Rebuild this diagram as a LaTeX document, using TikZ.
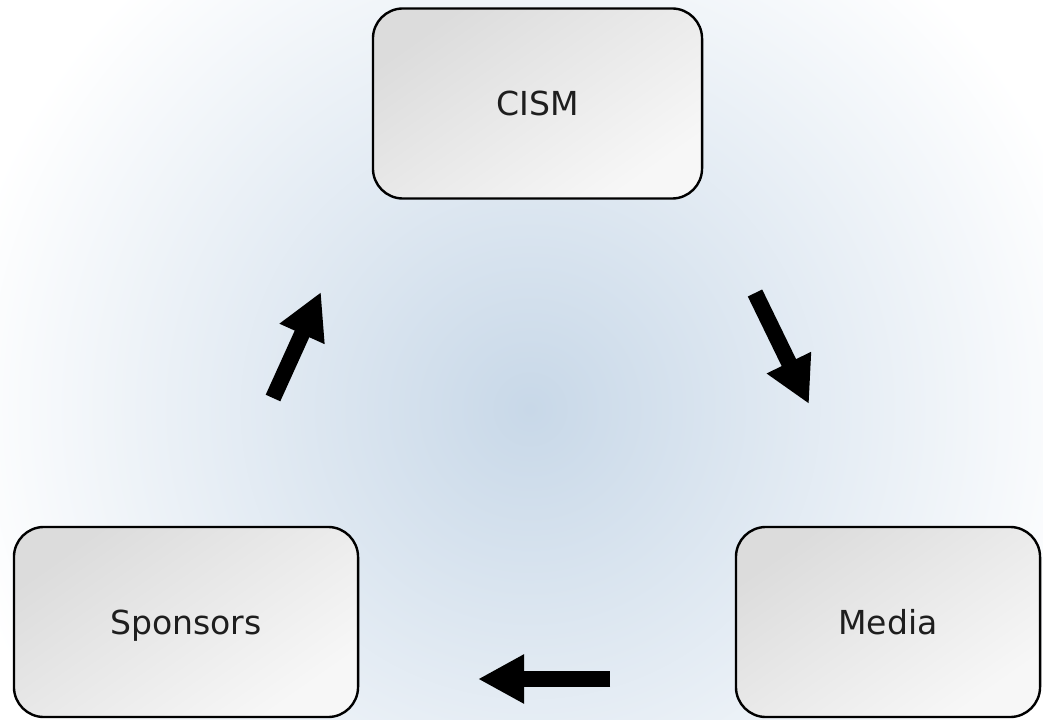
\documentclass[tikz,border=0pt]{standalone}
\usepackage{fontspec}
\setmainfont{DejaVu Sans}
\usetikzlibrary{arrows.meta, shadings}
\definecolor{glowblue}{RGB}{200,216,232}
\definecolor{boxgray}{RGB}{220,220,220}
\definecolor{textgray}{RGB}{30,30,30}
\tikzset{
  party/.style={draw=black, line width=0.06cm, rounded corners=0.75cm,
    top color=boxgray, bottom color=white!97!black, shading angle=35,
    minimum height=4.75cm, text=textgray, text height=17.1pt, text depth=0pt,
    font=\fontsize{23.5}{28}\selectfont},
  flow/.style={line width=0.4cm, -{Triangle[width=1.15cm, length=1.15cm]}}
}
\begin{document}
\begin{tikzpicture}[x=0.025cm, y=0.025cm]
\useasboundingbox (0,0) rectangle (1043,719);
%
\fill[white] (0,0) rectangle (1043,719);
\begin{scope}
  \clip (0,0) rectangle (1043,719);
  \shade[inner color=glowblue, outer color=white] (530,310) circle (580);
\end{scope}
%
\node[party, minimum width=8.225cm] (cism) at (537.5,615.5) {CISM};
\node[party, minimum width=8.6cm] (sponsors) at (186,97) {Sponsors};
\node[party, minimum width=7.6cm] (media) at (888,97) {Media};
%
\coordinate (s-tail) at (273,321);
\coordinate (s-tip) at (321,427);
\coordinate (c-tail) at (755,426);
\coordinate (c-tip) at (809,315);
\coordinate (m-tail) at (610,40);
\coordinate (m-tip) at (478,40);
%
\draw[flow] (s-tail) -- (s-tip);
\draw[flow] (c-tail) -- (c-tip);
\draw[flow] (m-tail) -- (m-tip);
%
\end{tikzpicture}
\end{document}
